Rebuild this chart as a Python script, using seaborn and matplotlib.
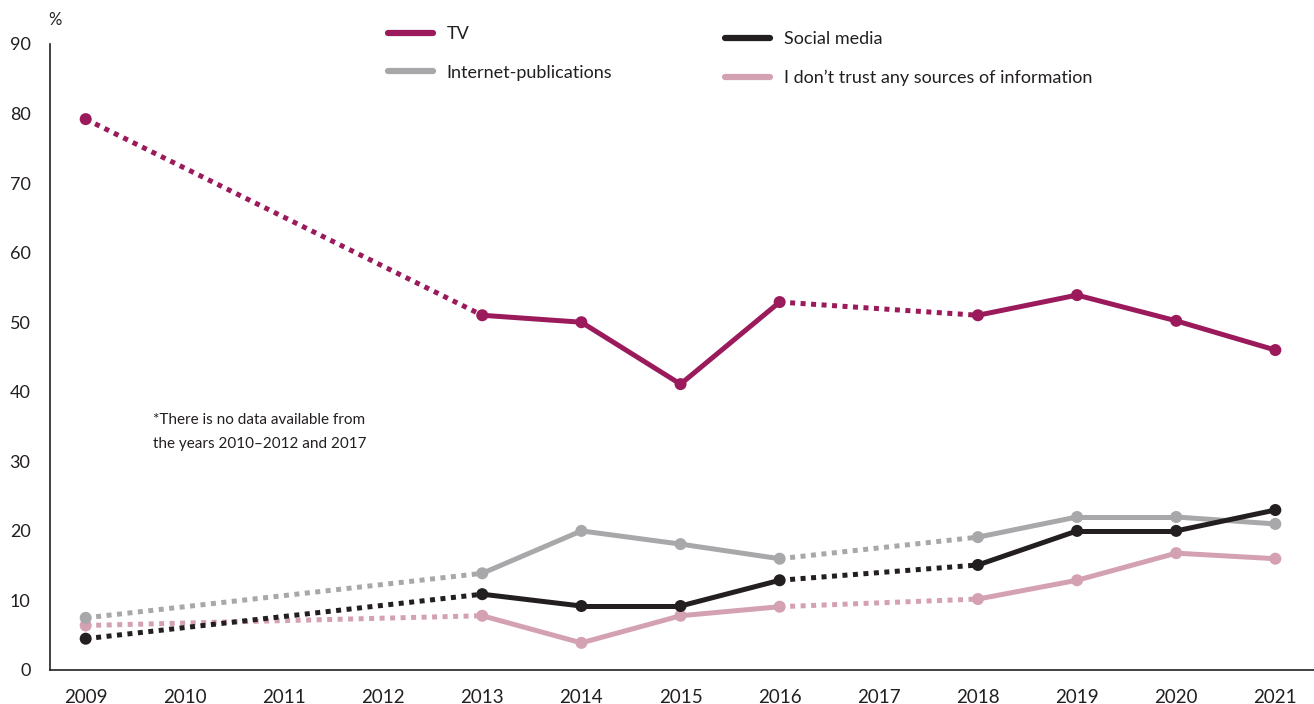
import numpy as np
import pandas as pd
import matplotlib
matplotlib.use("Agg")
import matplotlib.pyplot as plt
from matplotlib.lines import Line2D
import seaborn as sns

years = ["2009", "2010", "2011", "2012", "2013", "2014", "2015", "2016",
         "2017", "2018", "2019", "2020", "2021"]
nan = np.nan
tv = [79.2, nan, nan, nan, 51.0, 50.0, 41.1, 52.9, nan, 51.0, 53.9, 50.2, 46.0]
internet = [7.5, nan, nan, nan, 13.9, 20.0, 18.1, 16.0, nan, 19.1, 22.0, 22.0, 21.0]
social = [4.5, nan, nan, nan, 10.9, 9.2, 9.2, 12.9, nan, 15.1, 20.0, 20.0, 23.0]
distrust = [6.4, nan, nan, nan, 7.8, 3.9, 7.8, 9.1, nan, 10.2, 12.9, 16.8, 16.0]

series_names = ["TV", "Internet-publications", "Social media",
                "I don\u2019t trust any sources of information"]
series_values = [tv, internet, social, distrust]
colors = ["#9B1A5B", "#A8A8AB", "#231F20", "#D4A1B2"]

sns.set_theme(style="white")
plt.rcParams["font.family"] = ["Lato", "DejaVu Sans"]

fig = plt.figure(figsize=(13.14, 7.04), dpi=100)
ax = fig.add_axes([50 / 1314, 34 / 704, 1 - 50 / 1314, (670 - 44) / 704])

lw = 3.6
draw_order = [3, 1, 2, 0]
for i in draw_order:
    vals = np.array(series_values[i], dtype=float)
    idx = np.where(~np.isnan(vals))[0]
    for a, b in zip(idx[:-1], idx[1:]):
        seg = pd.DataFrame({"x": [a, b], "y": [vals[a], vals[b]]})
        if b - a == 1:
            sns.lineplot(data=seg, x="x", y="y", ax=ax, color=colors[i],
                         linewidth=lw, solid_capstyle="round", sort=False)
        else:
            sns.lineplot(data=seg, x="x", y="y", ax=ax, color=colors[i],
                         linewidth=lw, linestyle=(0, (1, 1.1)),
                         dash_capstyle="butt", sort=False)
    pts = pd.DataFrame({"x": idx, "y": vals[idx]})
    sns.scatterplot(data=pts, x="x", y="y", ax=ax, color=colors[i], s=75,
                    edgecolor="none", zorder=5)

ax.set_xlim(-0.36, 12.39)
ax.set_ylim(0, 90)
ax.set_xticks(range(len(years)))
ax.set_xticklabels(years)
ax.set_yticks(range(0, 91, 10))
ax.set_xlabel("")
ax.set_ylabel("")
for s in ["top", "right"]:
    ax.spines[s].set_visible(False)
for s in ["left", "bottom"]:
    ax.spines[s].set_color("#231F20")
    ax.spines[s].set_linewidth(1.2)
ax.tick_params(axis="y", direction="in", length=8, width=1.2, color="#231F20",
               labelsize=13, labelcolor="#231F20", pad=14)
ax.tick_params(axis="x", length=0, labelsize=13.5, labelcolor="#231F20", pad=14)

fig.text(48 / 1314, 1 - 20 / 704, "%", fontsize=12, color="#231F20",
         ha="left", va="center")

fig.text(153 / 1314, 1 - 432 / 704,
         "*There is no data available from\nthe years 2010\u20132012 and 2017",
         fontsize=11, color="#231F20", ha="left", va="center", linespacing=1.85)

def handle(c):
    return Line2D([0], [0], color=c, linewidth=4.5, solid_capstyle="round")

common = dict(loc="upper left", frameon=False, fontsize=13, handlelength=2.5,
              labelspacing=1.25, borderpad=0, borderaxespad=0,
              handletextpad=0.75, labelcolor="#231F20")
fig.legend([handle(colors[0]), handle(colors[1])], series_names[:2],
           bbox_to_anchor=(388 / 1314, 1 - 26 / 704), **common)
fig.legend([handle(colors[2]), handle(colors[3])], series_names[2:],
           bbox_to_anchor=(725 / 1314, 1 - 31 / 704), **common)

fig.savefig("out.png", dpi=100)
